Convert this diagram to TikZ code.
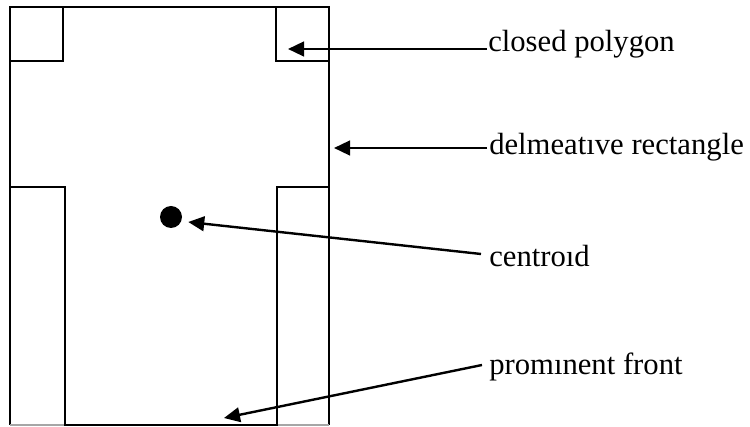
\documentclass[tikz,border=0pt]{standalone}
\usepackage{fontspec}
\setmainfont{Liberation Serif}
\usetikzlibrary{arrows.meta,calc}
\begin{document}
\begin{tikzpicture}[x=0.75pt,y=-0.75pt,
  outline/.style={line width=2pt,line join=miter},
  pointer/.style={line width=1.8pt,-{Triangle[length=12pt,width=11pt]}},
  lbl/.style={anchor=base west,inner sep=0pt,font=\fontsize{23}{27}\selectfont},
  dotmark/.style={circle,fill=black,inner sep=0pt,minimum size=16.5pt}]
\useasboundingbox (0,0) rectangle (750,427);
% delineative rectangle (bottom side faint at image edge)
\draw[outline] (10,425) -- (10,7) -- (329,7) -- (329,425);
\draw[line width=1.2pt,black!35] (10,425) -- (66,425);
\draw[line width=1.2pt,black!35] (277,425) -- (329,425);
% closed polygon
\draw[outline] (63,7) -- (63,61) -- (10,61);
\draw[outline] (276,7) -- (276,61) -- (329,61);
\draw[outline] (10,187) -- (65,187) -- (65,425) -- (277,425) -- (277,187) -- (329,187);
% centroid
\node[dotmark] (dot) at (171,217) {};
% targets
\coordinate (polytip) at (288,49);
\coordinate (recttip) at (334,148);
\coordinate (fronttip) at (224,418);
% labels
\node[lbl] (cp) at (488,52) {closed polygon};
\node[lbl] (dr) at (489,155) {delmeatıve rectangle};
\node[lbl] (ce) at (489,267) {centroıd};
\node[lbl] (pf) at (489,375) {promınent front};
% connectors
\draw[pointer] ($(cp.base west)+(-1,-3)$) -- (polytip);
\draw[pointer] ($(dr.base west)+(-2,-7)$) -- (recttip);
\draw[pointer] ($(ce.base west)+(-8,-13)$) -- ($(dot.east)+(6,5)$);
\draw[pointer] ($(pf.base west)+(-7,-10)$) -- (fronttip);
\end{tikzpicture}
\end{document}
